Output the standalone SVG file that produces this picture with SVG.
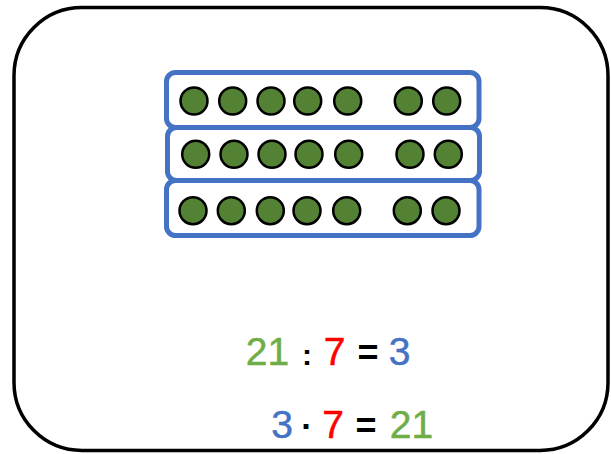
<svg xmlns="http://www.w3.org/2000/svg" width="611" height="454" viewBox="0 0 611 454">
<style>
.frame{fill:#fff;stroke:#000;stroke-width:3.5}
.row{fill:#fff;stroke:#4472C4;stroke-width:5}
.dot{fill:#548235;stroke:#000;stroke-width:2.5}
.t{font-family:"Liberation Sans",Arial,sans-serif;font-size:39px;text-anchor:middle;stroke-width:0.5;stroke-linejoin:round}
.op{font-family:"Liberation Sans",Arial,sans-serif;font-weight:bold;text-anchor:middle;fill:#000}
.g{fill:#70AD47;stroke:#70AD47}.r{fill:#FF0000;stroke:#FF0000}.b{fill:#4472C4;stroke:#4472C4}
</style>
<rect width="611" height="454" fill="#fff"/>
<g id="frame"><rect class="frame" x="14" y="7.5" width="594" height="443" rx="68" ry="68"/></g>
<g id="row1">
<rect class="row" x="166.5" y="72.5" width="312.5" height="55" rx="9"/>
<circle class="dot" cx="194" cy="101" r="13.5"/><circle class="dot" cx="232.7" cy="101" r="13.5"/><circle class="dot" cx="271" cy="101" r="13.5"/><circle class="dot" cx="307.7" cy="101" r="13.5"/><circle class="dot" cx="347.7" cy="101" r="13.5"/><circle class="dot" cx="408.3" cy="101" r="13.5"/><circle class="dot" cx="446.7" cy="101" r="13.5"/>
</g>
<g id="row2">
<rect class="row" x="167.5" y="127.5" width="312" height="53" rx="9"/>
<circle class="dot" cx="195.7" cy="154.3" r="13.5"/><circle class="dot" cx="234" cy="154.3" r="13.5"/><circle class="dot" cx="272" cy="154.3" r="13.5"/><circle class="dot" cx="309" cy="154.3" r="13.5"/><circle class="dot" cx="348.7" cy="154.3" r="13.5"/><circle class="dot" cx="410" cy="154.3" r="13.5"/><circle class="dot" cx="448.3" cy="154.3" r="13.5"/>
</g>
<g id="row3">
<rect class="row" x="166.5" y="180.5" width="312.5" height="55" rx="9"/>
<circle class="dot" cx="193" cy="210.7" r="13.5"/><circle class="dot" cx="231.3" cy="210.7" r="13.5"/><circle class="dot" cx="270.3" cy="210.7" r="13.5"/><circle class="dot" cx="307" cy="210.7" r="13.5"/><circle class="dot" cx="346.7" cy="210.7" r="13.5"/><circle class="dot" cx="407.3" cy="210.7" r="13.5"/><circle class="dot" cx="446" cy="210.7" r="13.5"/>
</g>
<g id="connectors"/>
<g id="equation1">
<text class="t g" x="267.5" y="364.5">21</text>
<text class="op" x="307" y="364.5" font-size="30">:</text>
<text class="t r" x="334.5" y="364.5">7</text>
<text class="op" x="368" y="364.5" font-size="36">=</text>
<text class="t b" x="399.5" y="364.5">3</text>
</g>
<g id="equation2">
<text class="t b" x="282" y="437.5">3</text>
<text class="op" x="307" y="437.5" font-size="34">·</text>
<text class="t r" x="333" y="437.5">7</text>
<text class="op" x="366" y="437.5" font-size="36">=</text>
<text class="t g" x="411.5" y="437.5">21</text>
</g>
</svg>
